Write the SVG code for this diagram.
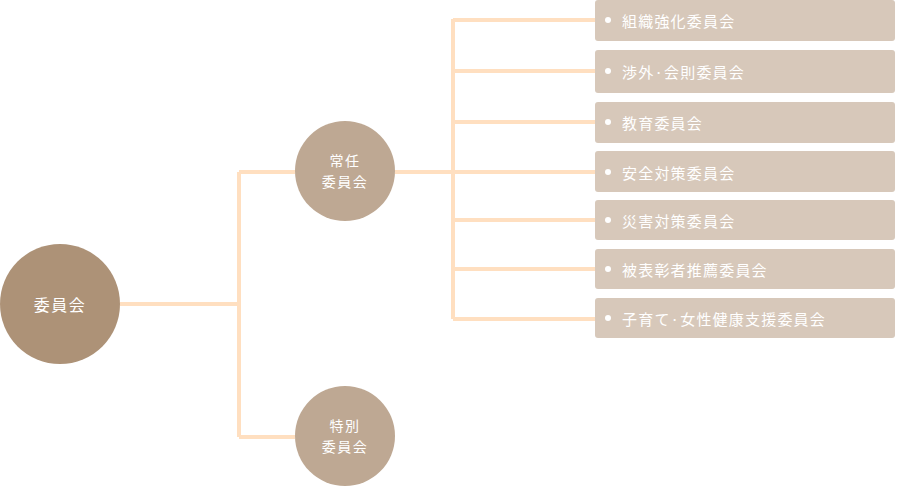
<svg xmlns="http://www.w3.org/2000/svg" width="900" height="486" viewBox="0 0 900 486">
<style>
.ln{stroke:#ffdfc0;stroke-width:4;fill:none}
.t{font-family:"Noto Sans CJK JP","Noto Sans",sans-serif;fill:#fff;text-anchor:middle;dominant-baseline:central}
.bx{fill:#d7c8ba}
.bt{font-family:"Noto Sans CJK JP","Noto Sans",sans-serif;fill:#fff;font-size:15px;letter-spacing:1.2px;dominant-baseline:central}
.dot{fill:#fff}
</style>
<g id="connectors">
<path class="ln" d="M120 304H239M239 172V437M239 172H295M239 437H295"/>
<path class="ln" d="M395 172H453M453 19V319M453 20H595M453 71H595M453 122H595M453 172H595M453 220H595M453 269H595M453 319H595"/>
</g>
<g id="iinkai"><circle cx="60" cy="304" r="60" fill="#ad9277"/><text class="t" x="60" y="304" font-size="16" letter-spacing="1.5">委員会</text></g>
<g id="jonin"><circle cx="345" cy="171" r="50" fill="#bea893"/><text class="t" x="345" y="160" font-size="14" letter-spacing="1.5">常任</text><text class="t" x="345" y="181" font-size="14" letter-spacing="1.5">委員会</text></g>
<g id="tokubetsu"><circle cx="345" cy="436" r="50" fill="#bea893"/><text class="t" x="345" y="425" font-size="14" letter-spacing="1.5">特別</text><text class="t" x="345" y="446" font-size="14" letter-spacing="1.5">委員会</text></g>
<g id="b1"><rect class="bx" x="595" y="0" width="300" height="41" rx="3"/><circle class="dot" cx="608" cy="20" r="3"/><text class="bt" x="622" y="20">組織強化委員会</text></g>
<g id="b2"><rect class="bx" x="595" y="50" width="300" height="43" rx="3"/><circle class="dot" cx="608" cy="71" r="3"/><text class="bt" x="622" y="71">渉外·会則委員会</text></g>
<g id="b3"><rect class="bx" x="595" y="102" width="300" height="41" rx="3"/><circle class="dot" cx="608" cy="122" r="3"/><text class="bt" x="622" y="122">教育委員会</text></g>
<g id="b4"><rect class="bx" x="595" y="151" width="300" height="41" rx="3"/><circle class="dot" cx="608" cy="172" r="3"/><text class="bt" x="622" y="172">安全対策委員会</text></g>
<g id="b5"><rect class="bx" x="595" y="200" width="300" height="40" rx="3"/><circle class="dot" cx="608" cy="220" r="3"/><text class="bt" x="622" y="220">災害対策委員会</text></g>
<g id="b6"><rect class="bx" x="595" y="249" width="300" height="40" rx="3"/><circle class="dot" cx="608" cy="269" r="3"/><text class="bt" x="622" y="269">被表彰者推薦委員会</text></g>
<g id="b7"><rect class="bx" x="595" y="298" width="300" height="40" rx="3"/><circle class="dot" cx="608" cy="318" r="3"/><text class="bt" x="622" y="318">子育て·女性健康支援委員会</text></g>
</svg>
